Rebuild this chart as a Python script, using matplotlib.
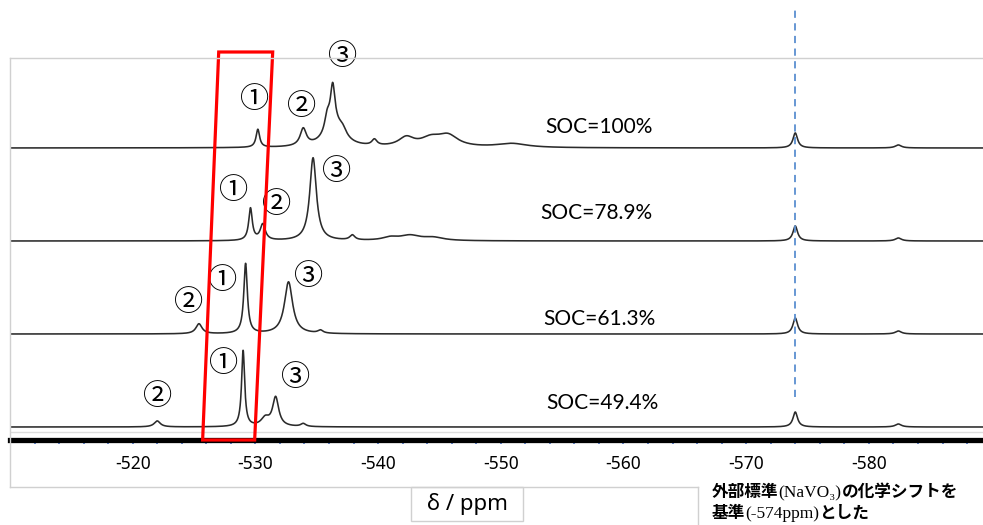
import matplotlib
matplotlib.use('Agg')
import matplotlib.pyplot as plt  # noqa E402
import numpy as np  # noqa E402
from matplotlib.lines import Line2D  # noqa E402
from matplotlib.patches import Polygon, Rectangle  # noqa E402

# --- data (peak position ppm, height, FWHM ppm) ---
soc_labels = ["SOC=100%", "SOC=78.9%", "SOC=61.3%", "SOC=49.4%"]
baselines = [292, 199, 106, 13]

pos_100 = [-530.2, -533.9, -535.85, -536.3, -536.4, -537.1, -539.7,
           -542.3, -544.3, -545.7, -550.9, -574.0, -582.4]
hgt_100 = [18, 17, 15, 40, 20, 8, 6, 9, 8, 11, 4, 15, 3]
wid_100 = [0.35, 0.6, 0.5, 0.45, 1.8, 0.8, 0.5, 1.5, 2.0, 2.0, 3.0, 0.45, 0.6]

pos_789 = [-529.6, -530.6, -534.7, -537.9, -541.0, -542.6, -544.5,
           -574.0, -582.4]
hgt_789 = [32, 16, 83, 5, 3, 5, 3, 15, 3]
wid_789 = [0.35, 0.5, 0.65, 0.5, 1.5, 2.0, 2.0, 0.45, 0.6]

pos_613 = [-525.4, -529.2, -532.7, -535.3, -574.0, -582.4]
hgt_613 = [10, 70, 52, 3, 16, 3]
wid_613 = [0.6, 0.35, 0.8, 0.5, 0.45, 0.6]

pos_494 = [-522.0, -529.0, -530.8, -531.65, -533.9, -574.0, -582.4]
hgt_494 = [6, 76, 8, 29, 3, 15, 3]
wid_494 = [0.6, 0.3, 0.8, 0.6, 0.5, 0.45, 0.6]

peaks = [(pos_100, hgt_100, wid_100), (pos_789, hgt_789, wid_789),
         (pos_613, hgt_613, wid_613), (pos_494, hgt_494, wid_494)]

reference_ppm = -574.0
xticks = [-520, -530, -540, -550, -560, -570, -580]

# circled peak labels (text, ppm, height) per trace
peak_marks = [
    [("①", -529.94, 340), ("②", -533.77, 333), ("③", -537.11, 383)],
    [("①", -528.23, 249), ("②", -531.74, 235), ("③", -536.63, 268)],
    [("②", -524.56, 137), ("①", -527.33, 159), ("③", -534.34, 163)],
    [("②", -522.04, 43), ("①", -527.42, 76), ("③", -533.28, 62)],
]
soc_x = [-558.0, -557.8, -558.0, -558.3]
soc_y = [313, 227, 121, 37]

W, H = 983, 525


def fx(px):
    return px / W


def fy(py):
    return 1 - py / H


fig = plt.figure(figsize=(W / 100, H / 100), dpi=100)
ax = fig.add_axes([fx(10), fy(440), fx(973), 383 / H])

x = np.linspace(-510.0, -589.3, 6000)
for (p, h, w), base in zip(peaks, baselines):
    y = np.full_like(x, float(base))
    for pp, hh, ww in zip(p, h, w):
        g = ww / 2
        y += hh * g ** 2 / ((x - pp) ** 2 + g ** 2)
    ax.plot(x, y, color='#2b2b2b', lw=1.15)

ax.set_xlim(-510.0, -589.3)
ax.set_ylim(0, 383)
ax.set_yticks([])
ax.set_xticks(xticks)
ax.set_xticklabels([str(t) for t in xticks], family='Noto Sans', fontsize=12.5)
ax.set_xticks(np.arange(-512, -589, -2), minor=True)
ax.tick_params(axis='x', which='both', direction='out', length=3, width=1.2,
               color='#4a74d0', pad=8)
for s in ['top', 'left', 'right']:
    ax.spines[s].set_visible(False)
ax.spines['bottom'].set_linewidth(3.8)
ax.spines['bottom'].set_color('black')
ax.axhline(8, color='#dcdcdc', lw=1.0)

# reference dashed line
ax.plot([reference_ppm, reference_ppm], [43, 430], color='#5b8fd0', lw=1.3,
        ls=(0, (4, 3)), clip_on=False)

# red box
ax.add_patch(Polygon([(-527.01, 388), (-531.41, 388), (-529.94, 0), (-525.70, 0)],
                     closed=True, fill=False, ec='#ff0000', lw=2.3, clip_on=False,
                     zorder=5))

for marks in peak_marks:
    for s, px, py in marks:
        ax.text(px, py, s, ha='center', va='center', fontsize=21,
                family=['Noto Sans CJK JP'], clip_on=False)

for s, sx, sy in zip(soc_labels, soc_x, soc_y):
    ax.text(sx, sy, s, ha='center', va='center', fontsize=15, family='Lato')

# frame lines
grey = '#d0d0d0'
for (x0, y0, x1, y1) in [(10, 58, 983, 58), (10, 58, 10, 487), (10, 487, 698, 487),
                         (698, 487, 698, 525)]:
    fig.add_artist(Line2D([fx(x0), fx(x1)], [fy(y0), fy(y1)], color=grey, lw=1.0))
fig.add_artist(Rectangle((fx(411), fy(521)), fx(112), 34 / H, fc='white', ec=grey,
                         lw=1.0, transform=fig.transFigure))
fig.text(fx(467), fy(504), "δ / ppm", ha='center', va='center', fontsize=16,
         family='Noto Sans')

# note about the external standard
cjk = dict(family=['Noto Sans CJK JP'], fontweight='bold', fontsize=12)
serif = dict(family=['Liberation Serif', 'DejaVu Serif'], fontsize=12.5)
lines = [[("外部標準", cjk), ("(NaVO₃)", serif), ("の化学シフトを", cjk)],
         [("基準", cjk), ("(-574ppm)", serif), ("とした", cjk)]]
for row, yy in zip(lines, [492, 513]):
    prev = None
    for s, kw in row:
        if prev is None:
            prev = fig.text(fx(712), fy(yy), s, ha='left', va='center', **kw)
        else:
            prev = ax.annotate(s, xy=(1, 0), xycoords=prev, ha='left', va='bottom',
                               **kw)

fig.savefig('out.png', dpi=100)
plt.close(fig)
